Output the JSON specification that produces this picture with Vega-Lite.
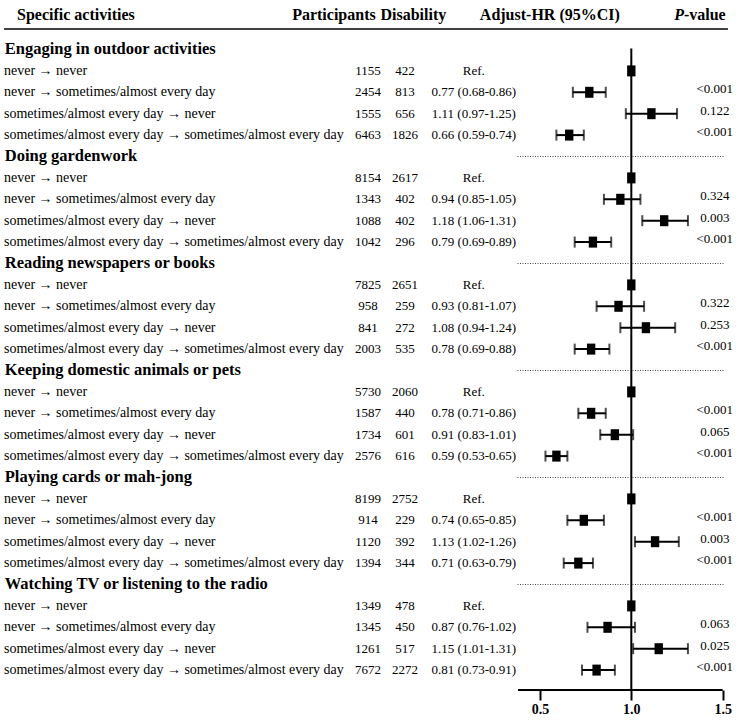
{
  "$schema": "https://vega.github.io/schema/vega-lite/v6.json",
  "width": 740,
  "height": 690,
  "autosize": {"type": "none"},
  "padding": {"left": 0, "top": 0, "right": 0, "bottom": 34},
  "background": "white",
  "config": {
    "view": {"stroke": null},
    "font": "Liberation Serif",
    "axisY": {"disable": true},
    "text": {"font": "Liberation Serif", "color": "black"}
  },
  "datasets": {
    "rows": [
      {"r": 1, "label": "never → never", "n": "1155", "d": "422", "hrtxt": "Ref.", "hr": 1, "lo": null, "hi": null, "p": ""},
      {"r": 2, "label": "never → sometimes/almost every day", "n": "2454", "d": "813", "hrtxt": "0.77 (0.68-0.86)", "hr": 0.77, "lo": 0.68, "hi": 0.86, "p": "<0.001"},
      {"r": 3, "label": "sometimes/almost every day → never", "n": "1555", "d": "656", "hrtxt": "1.11 (0.97-1.25)", "hr": 1.11, "lo": 0.97, "hi": 1.25, "p": "0.122"},
      {"r": 4, "label": "sometimes/almost every day → sometimes/almost every day", "n": "6463", "d": "1826", "hrtxt": "0.66 (0.59-0.74)", "hr": 0.66, "lo": 0.59, "hi": 0.74, "p": "<0.001"},
      {"r": 6, "label": "never → never", "n": "8154", "d": "2617", "hrtxt": "Ref.", "hr": 1, "lo": null, "hi": null, "p": ""},
      {"r": 7, "label": "never → sometimes/almost every day", "n": "1343", "d": "402", "hrtxt": "0.94 (0.85-1.05)", "hr": 0.94, "lo": 0.85, "hi": 1.05, "p": "0.324"},
      {"r": 8, "label": "sometimes/almost every day → never", "n": "1088", "d": "402", "hrtxt": "1.18 (1.06-1.31)", "hr": 1.18, "lo": 1.06, "hi": 1.31, "p": "0.003"},
      {"r": 9, "label": "sometimes/almost every day → sometimes/almost every day", "n": "1042", "d": "296", "hrtxt": "0.79 (0.69-0.89)", "hr": 0.79, "lo": 0.69, "hi": 0.89, "p": "<0.001"},
      {"r": 11, "label": "never → never", "n": "7825", "d": "2651", "hrtxt": "Ref.", "hr": 1, "lo": null, "hi": null, "p": ""},
      {"r": 12, "label": "never → sometimes/almost every day", "n": "958", "d": "259", "hrtxt": "0.93 (0.81-1.07)", "hr": 0.93, "lo": 0.81, "hi": 1.07, "p": "0.322"},
      {"r": 13, "label": "sometimes/almost every day → never", "n": "841", "d": "272", "hrtxt": "1.08 (0.94-1.24)", "hr": 1.08, "lo": 0.94, "hi": 1.24, "p": "0.253"},
      {"r": 14, "label": "sometimes/almost every day → sometimes/almost every day", "n": "2003", "d": "535", "hrtxt": "0.78 (0.69-0.88)", "hr": 0.78, "lo": 0.69, "hi": 0.88, "p": "<0.001"},
      {"r": 16, "label": "never → never", "n": "5730", "d": "2060", "hrtxt": "Ref.", "hr": 1, "lo": null, "hi": null, "p": ""},
      {"r": 17, "label": "never → sometimes/almost every day", "n": "1587", "d": "440", "hrtxt": "0.78 (0.71-0.86)", "hr": 0.78, "lo": 0.71, "hi": 0.86, "p": "<0.001"},
      {"r": 18, "label": "sometimes/almost every day → never", "n": "1734", "d": "601", "hrtxt": "0.91 (0.83-1.01)", "hr": 0.91, "lo": 0.83, "hi": 1.01, "p": "0.065"},
      {"r": 19, "label": "sometimes/almost every day → sometimes/almost every day", "n": "2576", "d": "616", "hrtxt": "0.59 (0.53-0.65)", "hr": 0.59, "lo": 0.53, "hi": 0.65, "p": "<0.001"},
      {"r": 21, "label": "never → never", "n": "8199", "d": "2752", "hrtxt": "Ref.", "hr": 1, "lo": null, "hi": null, "p": ""},
      {"r": 22, "label": "never → sometimes/almost every day", "n": "914", "d": "229", "hrtxt": "0.74 (0.65-0.85)", "hr": 0.74, "lo": 0.65, "hi": 0.85, "p": "<0.001"},
      {"r": 23, "label": "sometimes/almost every day → never", "n": "1120", "d": "392", "hrtxt": "1.13 (1.02-1.26)", "hr": 1.13, "lo": 1.02, "hi": 1.26, "p": "0.003"},
      {"r": 24, "label": "sometimes/almost every day → sometimes/almost every day", "n": "1394", "d": "344", "hrtxt": "0.71 (0.63-0.79)", "hr": 0.71, "lo": 0.63, "hi": 0.79, "p": "<0.001"},
      {"r": 26, "label": "never → never", "n": "1349", "d": "478", "hrtxt": "Ref.", "hr": 1, "lo": null, "hi": null, "p": ""},
      {"r": 27, "label": "never → sometimes/almost every day", "n": "1345", "d": "450", "hrtxt": "0.87 (0.76-1.02)", "hr": 0.87, "lo": 0.76, "hi": 1.02, "p": "0.063"},
      {"r": 28, "label": "sometimes/almost every day → never", "n": "1261", "d": "517", "hrtxt": "1.15 (1.01-1.31)", "hr": 1.15, "lo": 1.01, "hi": 1.31, "p": "0.025"},
      {"r": 29, "label": "sometimes/almost every day → sometimes/almost every day", "n": "7672", "d": "2272", "hrtxt": "0.81 (0.73-0.91)", "hr": 0.81, "lo": 0.73, "hi": 0.91, "p": "<0.001"}
    ],
    "groups": [
      {"r": 0, "title": "Engaging in outdoor activities"},
      {"r": 5, "title": "Doing gardenwork"},
      {"r": 10, "title": "Reading newspapers or books"},
      {"r": 15, "title": "Keeping domestic animals or pets"},
      {"r": 20, "title": "Playing cards or mah-jong"},
      {"r": 25, "title": "Watching TV or listening to the radio"}
    ]
  },
  "layer": [
    {
      "data": {"name": "rows"},
      "transform": [{"filter": "isValid(datum.lo)"}],
      "mark": {"type": "rule", "color": "black", "strokeWidth": 2},
      "encoding": {
        "x": {"field": "lo", "type": "quantitative", "title": null,
          "scale": {"domain": [-2.456, 1.595], "nice": false, "zero": false},
          "axis": {"values": [0.5, 1, 1.5], "format": ".1f", "domain": false, "grid": false,
            "ticks": true, "tickSize": 10, "tickWidth": 2, "tickColor": "black",
            "labelFont": "Liberation Serif", "labelFontWeight": "bold", "labelFontSize": 14,
            "labelColor": "black", "labelPadding": 2, "title": null}},
        "x2": {"field": "hi"},
        "y": {"field": "r", "type": "quantitative", "axis": null,
          "scale": {"domain": [-2.313, 29.93], "reverse": true, "nice": false, "zero": false}}
      }
    },
    {
      "data": {"name": "rows"},
      "transform": [{"filter": "isValid(datum.lo)"}],
      "mark": {"type": "tick", "orient": "vertical", "color": "black", "size": 11, "thickness": 2},
      "encoding": {
        "x": {"field": "lo", "type": "quantitative"},
        "y": {"field": "r", "type": "quantitative", "axis": null}
      }
    },
    {
      "data": {"name": "rows"},
      "transform": [{"filter": "isValid(datum.hi)"}],
      "mark": {"type": "tick", "orient": "vertical", "color": "black", "size": 11, "thickness": 2},
      "encoding": {
        "x": {"field": "hi", "type": "quantitative"},
        "y": {"field": "r", "type": "quantitative", "axis": null}
      }
    },
    {
      "data": {"values": [{}]},
      "mark": {"type": "rule", "color": "black", "strokeWidth": 2},
      "encoding": {
        "x": {"datum": 1},
        "y": {"datum": -0.05, "axis": null},
        "y2": {"datum": 29.93}
      }
    },
    {
      "data": {"name": "rows"},
      "mark": {"type": "point", "filled": true, "color": "black", "opacity": 1, "size": 121,
        "shape": "M-0.76,-1H0.76V1H-0.76Z", "strokeWidth": 0},
      "encoding": {
        "x": {"field": "hr", "type": "quantitative"},
        "y": {"field": "r", "type": "quantitative", "axis": null}
      }
    },
    {
      "data": {"name": "groups"},
      "transform": [{"filter": "datum.r > 0"}],
      "mark": {"type": "rule", "color": "#444444", "strokeWidth": 1, "strokeDash": [1, 1.5]},
      "encoding": {
        "x": {"datum": 0.377},
        "x2": {"datum": 1.505},
        "y": {"field": "r", "type": "quantitative", "axis": null}
      }
    },
    {
      "data": {"values": [{}]},
      "mark": {"type": "rule", "color": "black", "strokeWidth": 2},
      "encoding": {
        "x": {"datum": 0.38},
        "x2": {"datum": 1.5},
        "y": {"datum": 29.93, "axis": null}
      }
    },
    {
      "data": {"values": [{}]},
      "mark": {"type": "rule", "color": "black", "strokeWidth": 1.5},
      "encoding": {
        "x": {"datum": -2.434},
        "x2": {"datum": 1.529},
        "y": {"datum": -0.958, "axis": null}
      }
    },
    {
      "data": {"name": "rows"},
      "mark": {"type": "text", "align": "left", "baseline": "middle", "fontSize": 14},
      "encoding": {
        "x": {"datum": -2.434},
        "y": {"field": "r", "type": "quantitative", "axis": null},
        "text": {"field": "label"}
      }
    },
    {
      "data": {"name": "rows"},
      "mark": {"type": "text", "align": "center", "baseline": "middle", "fontSize": 13},
      "encoding": {
        "x": {"datum": -0.442},
        "y": {"field": "r", "type": "quantitative", "axis": null},
        "text": {"field": "n"}
      }
    },
    {
      "data": {"name": "rows"},
      "mark": {"type": "text", "align": "center", "baseline": "middle", "fontSize": 13},
      "encoding": {
        "x": {"datum": -0.239},
        "y": {"field": "r", "type": "quantitative", "axis": null},
        "text": {"field": "d"}
      }
    },
    {
      "data": {"name": "rows"},
      "mark": {"type": "text", "align": "center", "baseline": "middle", "fontSize": 13},
      "encoding": {
        "x": {"datum": 0.138},
        "y": {"field": "r", "type": "quantitative", "axis": null},
        "text": {"field": "hrtxt"}
      }
    },
    {
      "data": {"name": "rows"},
      "mark": {"type": "text", "align": "center", "baseline": "middle", "fontSize": 13, "dy": -3},
      "encoding": {
        "x": {"datum": 1.457},
        "y": {"field": "r", "type": "quantitative", "axis": null},
        "text": {"field": "p"}
      }
    },
    {
      "data": {"name": "groups"},
      "mark": {"type": "text", "align": "left", "baseline": "middle", "fontSize": 16.5, "fontWeight": "bold"},
      "encoding": {
        "x": {"datum": -2.43},
        "y": {"field": "r", "type": "quantitative", "axis": null},
        "text": {"field": "title"}
      }
    },
    {
      "data": {"values": [{}]},
      "mark": {"type": "text", "align": "left", "baseline": "middle", "fontSize": 16, "fontWeight": "bold"},
      "encoding": {
        "x": {"datum": -2.363},
        "y": {"datum": -1.612, "axis": null},
        "text": {"value": "Specific activities"}
      }
    },
    {
      "data": {"values": [{}]},
      "mark": {"type": "text", "align": "center", "baseline": "middle", "fontSize": 16, "fontWeight": "bold"},
      "encoding": {
        "x": {"datum": -0.628},
        "y": {"datum": -1.612, "axis": null},
        "text": {"value": "Participants"}
      }
    },
    {
      "data": {"values": [{}]},
      "mark": {"type": "text", "align": "center", "baseline": "middle", "fontSize": 16, "fontWeight": "bold"},
      "encoding": {
        "x": {"datum": -0.193},
        "y": {"datum": -1.612, "axis": null},
        "text": {"value": "Disability"}
      }
    },
    {
      "data": {"values": [{}]},
      "mark": {"type": "text", "align": "center", "baseline": "middle", "fontSize": 16, "fontWeight": "bold"},
      "encoding": {
        "x": {"datum": 0.554},
        "y": {"datum": -1.612, "axis": null},
        "text": {"value": "Adjust-HR (95%CI)"}
      }
    },
    {
      "data": {"values": [{}]},
      "mark": {"type": "text", "align": "right", "baseline": "middle", "fontSize": 16, "fontWeight": "bold", "fontStyle": "italic"},
      "encoding": {
        "x": {"datum": 1.288},
        "y": {"datum": -1.612, "axis": null},
        "text": {"value": "P"}
      }
    },
    {
      "data": {"values": [{}]},
      "mark": {"type": "text", "align": "left", "baseline": "middle", "fontSize": 16, "fontWeight": "bold"},
      "encoding": {
        "x": {"datum": 1.288},
        "y": {"datum": -1.612, "axis": null},
        "text": {"value": "-value"}
      }
    }
  ]
}
